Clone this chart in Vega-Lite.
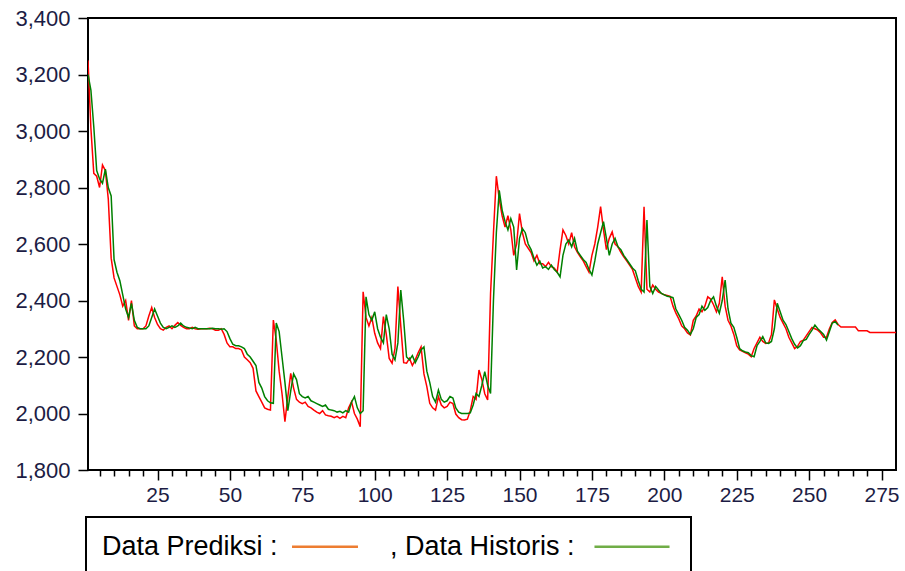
{
  "$schema": "https://vega.github.io/schema/vega-lite/v6.json",
  "width": 808,
  "height": 452,
  "autosize": {"type": "none"},
  "padding": {"left": 88, "top": 18, "right": 9, "bottom": 101},
  "background": "white",
  "config": {
    "view": {"stroke": "black", "strokeWidth": 2},
    "font": "Liberation Sans",
    "axis": {
      "domain": false,
      "grid": false,
      "tickColor": "black",
      "tickWidth": 1.5,
      "labelColor": "#1c1c44",
      "labelFont": "Liberation Sans",
      "title": null
    }
  },
  "data": {
    "values": [
      {"t":1,"p":3250,"h":3200},{"t":2,"p":3010,"h":3145},{"t":3,"p":2850,"h":3015},{"t":4,"p":2840,"h":2860},{"t":5,"p":2800,"h":2830},
      {"t":6,"p":2880,"h":2815},{"t":7,"p":2860,"h":2865},{"t":8,"p":2760,"h":2800},{"t":9,"p":2550,"h":2770},{"t":10,"p":2480,"h":2545},
      {"t":11,"p":2450,"h":2500},{"t":12,"p":2420,"h":2470},{"t":13,"p":2380,"h":2420},{"t":14,"p":2400,"h":2370},{"t":15,"p":2330,"h":2340},
      {"t":16,"p":2400,"h":2390},{"t":17,"p":2310,"h":2330},{"t":18,"p":2300,"h":2305},{"t":19,"p":2300,"h":2300},{"t":20,"p":2300,"h":2300},
      {"t":21,"p":2310,"h":2300},{"t":22,"p":2345,"h":2310},{"t":23,"p":2375,"h":2340},{"t":24,"p":2340,"h":2370},{"t":25,"p":2315,"h":2345},
      {"t":26,"p":2300,"h":2320},{"t":27,"p":2295,"h":2305},{"t":28,"p":2305,"h":2300},{"t":29,"p":2310,"h":2305},{"t":30,"p":2300,"h":2310},
      {"t":31,"p":2312,"h":2305},{"t":32,"p":2322,"h":2310},{"t":33,"p":2312,"h":2320},{"t":34,"p":2305,"h":2310},{"t":35,"p":2300,"h":2305},
      {"t":36,"p":2300,"h":2303},{"t":37,"p":2305,"h":2300},{"t":38,"p":2300,"h":2305},{"t":39,"p":2298,"h":2300},{"t":40,"p":2300,"h":2300},
      {"t":41,"p":2300,"h":2300},{"t":42,"p":2300,"h":2300},{"t":43,"p":2302,"h":2300},{"t":44,"p":2300,"h":2302},{"t":45,"p":2295,"h":2300},
      {"t":46,"p":2295,"h":2300},{"t":47,"p":2300,"h":2298},{"t":48,"p":2280,"h":2300},{"t":49,"p":2250,"h":2290},{"t":50,"p":2236,"h":2265},
      {"t":51,"p":2236,"h":2245},{"t":52,"p":2230,"h":2240},{"t":53,"p":2230,"h":2240},{"t":54,"p":2225,"h":2236},{"t":55,"p":2200,"h":2230},
      {"t":56,"p":2190,"h":2210},{"t":57,"p":2180,"h":2200},{"t":58,"p":2160,"h":2185},{"t":59,"p":2080,"h":2170},{"t":60,"p":2060,"h":2110},
      {"t":61,"p":2040,"h":2090},{"t":62,"p":2020,"h":2060},{"t":63,"p":2015,"h":2045},{"t":64,"p":2012,"h":2038},{"t":65,"p":2331,"h":2036},
      {"t":66,"p":2260,"h":2320},{"t":67,"p":2150,"h":2290},{"t":68,"p":2070,"h":2200},{"t":69,"p":1971,"h":2110},{"t":70,"p":2060,"h":2010},
      {"t":71,"p":2142,"h":2080},{"t":72,"p":2090,"h":2140},{"t":73,"p":2050,"h":2120},{"t":74,"p":2040,"h":2070},{"t":75,"p":2035,"h":2060},
      {"t":76,"p":2040,"h":2055},{"t":77,"p":2025,"h":2060},{"t":78,"p":2020,"h":2045},{"t":79,"p":2012,"h":2040},{"t":80,"p":2005,"h":2035},
      {"t":81,"p":2000,"h":2030},{"t":82,"p":2010,"h":2025},{"t":83,"p":1995,"h":2030},{"t":84,"p":1992,"h":2015},{"t":85,"p":1990,"h":2012},
      {"t":86,"p":1985,"h":2010},{"t":87,"p":1990,"h":2005},{"t":88,"p":1983,"h":2008},{"t":89,"p":1990,"h":2002},{"t":90,"p":1985,"h":2010},
      {"t":91,"p":2020,"h":2005},{"t":92,"p":2042,"h":2040},{"t":93,"p":2000,"h":2060},{"t":94,"p":1980,"h":2020},{"t":95,"p":1953,"h":2000},
      {"t":96,"p":2431,"h":2010},{"t":97,"p":2340,"h":2413},{"t":98,"p":2310,"h":2350},{"t":99,"p":2340,"h":2330},{"t":100,"p":2284,"h":2360},
      {"t":101,"p":2250,"h":2300},{"t":102,"p":2230,"h":2270},{"t":103,"p":2343,"h":2250},{"t":104,"p":2280,"h":2350},{"t":105,"p":2195,"h":2300},
      {"t":106,"p":2178,"h":2210},{"t":107,"p":2230,"h":2190},{"t":108,"p":2449,"h":2250},{"t":109,"p":2310,"h":2437},{"t":110,"p":2180,"h":2330},
      {"t":111,"p":2178,"h":2200},{"t":112,"p":2195,"h":2190},{"t":113,"p":2170,"h":2205},{"t":114,"p":2190,"h":2180},{"t":115,"p":2215,"h":2200},
      {"t":116,"p":2236,"h":2225},{"t":117,"p":2140,"h":2236},{"t":118,"p":2095,"h":2150},{"t":119,"p":2036,"h":2110},{"t":120,"p":2020,"h":2060},
      {"t":121,"p":2012,"h":2040},{"t":122,"p":2060,"h":2083},{"t":123,"p":2030,"h":2050},{"t":124,"p":2020,"h":2040},{"t":125,"p":2025,"h":2045},
      {"t":126,"p":2040,"h":2060},{"t":127,"p":2035,"h":2055},{"t":128,"p":1998,"h":2020},{"t":129,"p":1985,"h":2005},{"t":130,"p":1978,"h":2000},
      {"t":131,"p":1977,"h":2000},{"t":132,"p":1980,"h":2000},{"t":133,"p":2010,"h":2002},{"t":134,"p":2060,"h":2030},{"t":135,"p":2050,"h":2071},
      {"t":136,"p":2154,"h":2060},{"t":137,"p":2120,"h":2100},{"t":138,"p":2070,"h":2148},{"t":139,"p":2048,"h":2100},{"t":140,"p":2425,"h":2071},
      {"t":141,"p":2638,"h":2400},{"t":142,"p":2840,"h":2640},{"t":143,"p":2760,"h":2790},{"t":144,"p":2700,"h":2720},{"t":145,"p":2660,"h":2680},
      {"t":146,"p":2700,"h":2650},{"t":147,"p":2650,"h":2690},{"t":148,"p":2560,"h":2660},{"t":149,"p":2600,"h":2508},{"t":150,"p":2708,"h":2620},
      {"t":151,"p":2640,"h":2655},{"t":152,"p":2600,"h":2640},{"t":153,"p":2585,"h":2600},{"t":154,"p":2570,"h":2580},{"t":155,"p":2540,"h":2550},
      {"t":156,"p":2560,"h":2525},{"t":157,"p":2530,"h":2540},{"t":158,"p":2530,"h":2515},{"t":159,"p":2520,"h":2520},{"t":160,"p":2535,"h":2510},
      {"t":161,"p":2520,"h":2525},{"t":162,"p":2515,"h":2510},{"t":163,"p":2500,"h":2500},{"t":164,"p":2580,"h":2484},{"t":165,"p":2650,"h":2560},
      {"t":166,"p":2630,"h":2600},{"t":167,"p":2600,"h":2614},{"t":168,"p":2640,"h":2590},{"t":169,"p":2590,"h":2620},{"t":170,"p":2570,"h":2575},
      {"t":171,"p":2555,"h":2560},{"t":172,"p":2540,"h":2545},{"t":173,"p":2520,"h":2535},{"t":174,"p":2500,"h":2510},{"t":175,"p":2560,"h":2490},
      {"t":176,"p":2600,"h":2540},{"t":177,"p":2660,"h":2600},{"t":178,"p":2732,"h":2640},{"t":179,"p":2650,"h":2679},{"t":180,"p":2580,"h":2620},
      {"t":181,"p":2620,"h":2560},{"t":182,"p":2643,"h":2600},{"t":183,"p":2600,"h":2620},{"t":184,"p":2590,"h":2590},{"t":185,"p":2570,"h":2580},
      {"t":186,"p":2555,"h":2560},{"t":187,"p":2540,"h":2545},{"t":188,"p":2525,"h":2530},{"t":189,"p":2510,"h":2515},{"t":190,"p":2480,"h":2505},
      {"t":191,"p":2450,"h":2470},{"t":192,"p":2430,"h":2440},{"t":193,"p":2732,"h":2430},{"t":194,"p":2440,"h":2685},{"t":195,"p":2430,"h":2450},
      {"t":196,"p":2455,"h":2425},{"t":197,"p":2440,"h":2450},{"t":198,"p":2430,"h":2437},{"t":199,"p":2425,"h":2425},{"t":200,"p":2420,"h":2420},
      {"t":201,"p":2418,"h":2415},{"t":202,"p":2415,"h":2413},{"t":203,"p":2380,"h":2410},{"t":204,"p":2355,"h":2370},{"t":205,"p":2335,"h":2350},
      {"t":206,"p":2310,"h":2330},{"t":207,"p":2300,"h":2305},{"t":208,"p":2285,"h":2295},{"t":209,"p":2278,"h":2280},{"t":210,"p":2330,"h":2300},
      {"t":211,"p":2345,"h":2340},{"t":212,"p":2370,"h":2350},{"t":213,"p":2360,"h":2380},{"t":214,"p":2380,"h":2365},{"t":215,"p":2413,"h":2375},
      {"t":216,"p":2405,"h":2400},{"t":217,"p":2385,"h":2413},{"t":218,"p":2360,"h":2380},{"t":219,"p":2390,"h":2355},{"t":220,"p":2484,"h":2400},
      {"t":221,"p":2380,"h":2472},{"t":222,"p":2330,"h":2370},{"t":223,"p":2310,"h":2320},{"t":224,"p":2280,"h":2305},{"t":225,"p":2240,"h":2270},
      {"t":226,"p":2225,"h":2230},{"t":227,"p":2220,"h":2222},{"t":228,"p":2215,"h":2218},{"t":229,"p":2210,"h":2215},{"t":230,"p":2201,"h":2205},
      {"t":231,"p":2230,"h":2201},{"t":232,"p":2250,"h":2240},{"t":233,"p":2270,"h":2255},{"t":234,"p":2255,"h":2272},{"t":235,"p":2248,"h":2250},
      {"t":236,"p":2250,"h":2248},{"t":237,"p":2280,"h":2255},{"t":238,"p":2402,"h":2300},{"t":239,"p":2370,"h":2390},{"t":240,"p":2340,"h":2360},
      {"t":241,"p":2320,"h":2330},{"t":242,"p":2300,"h":2315},{"t":243,"p":2270,"h":2290},{"t":244,"p":2250,"h":2265},{"t":245,"p":2230,"h":2245},
      {"t":246,"p":2238,"h":2232},{"t":247,"p":2255,"h":2240},{"t":248,"p":2260,"h":2258},{"t":249,"p":2275,"h":2262},{"t":250,"p":2290,"h":2280},
      {"t":251,"p":2305,"h":2295},{"t":252,"p":2300,"h":2313},{"t":253,"p":2295,"h":2300},{"t":254,"p":2285,"h":2290},{"t":255,"p":2270,"h":2280},
      {"t":256,"p":2270,"h":2260},{"t":257,"p":2300,"h":2290},{"t":258,"p":2322,"h":2320},{"t":259,"p":2331,"h":2325},{"t":260,"p":2315,"h":2313},
      {"t":261,"p":2306},{"t":262,"p":2306},{"t":263,"p":2306},{"t":264,"p":2306},{"t":265,"p":2306},
      {"t":266,"p":2306},{"t":267,"p":2293},{"t":268,"p":2293},{"t":269,"p":2293},{"t":270,"p":2293},
      {"t":271,"p":2287},{"t":272,"p":2287},{"t":273,"p":2287},{"t":274,"p":2287},{"t":275,"p":2287},
      {"t":276,"p":2287},{"t":277,"p":2287},{"t":278,"p":2287},{"t":279,"p":2287},{"t":280,"p":2287}
    ]
  },
  "encoding": {
    "x": {
      "field": "t",
      "type": "quantitative",
      "scale": {"domain": [1, 280], "nice": false, "zero": false},
      "axis": {
        "values": [5,10,15,20,25,30,35,40,45,50,55,60,65,70,75,80,85,90,95,100,105,110,115,120,125,130,135,140,145,150,155,160,165,170,175,180,185,190,195,200,205,210,215,220,225,230,235,240,245,250,255,260,265,270,275],
        "labelExpr": "datum.value % 25 === 0 ? datum.label : ''",
        "tickSize": {"condition": {"test": "datum.value % 25 === 0", "value": 10}, "value": 6},
        "labelFontSize": 21,
        "labelPadding": 4,
        "labelFlush": false,
        "labelOverlap": false,
        "labelBound": false
      }
    },
    "y": {
      "field": "p",
      "type": "quantitative",
      "scale": {"domain": [1800, 3400], "nice": false, "zero": false},
      "axis": {
        "values": [1800, 2000, 2200, 2400, 2600, 2800, 3000, 3200, 3400],
        "format": ",d",
        "tickSize": 10,
        "labelPadding": 8,
        "labelFontSize": 22
      }
    }
  },
  "layer": [
    {
      "mark": {"type": "line", "color": "#ff0000", "strokeWidth": 1.5, "clip": true},
      "encoding": {}
    },
    {
      "mark": {"type": "line", "color": "#008000", "strokeWidth": 1.5, "clip": true},
      "encoding": {"y": {"field": "h", "type": "quantitative"}}
    },
    {
      "transform": [{"filter": "datum.t < 0"}],
      "mark": {"type": "line", "strokeWidth": 2.5},
      "encoding": {
        "color": {
          "datum": "Data Prediksi",
          "scale": {"domain": ["Data Prediksi", "Data Historis"], "range": ["#ED7D31", "#70AD47"]},
          "legend": {
            "orient": "none",
            "legendX": -2,
            "legendY": 499,
            "direction": "horizontal",
            "columns": 2,
            "gridAlign": "each",
            "title": null,
            "symbolType": "M-8,0H8",
            "symbolSize": 68,
            "symbolStrokeWidth": 2.5,
            "labelFontSize": 27,
            "labelFont": "Liberation Sans",
            "labelColor": "black",
            "labelLimit": 400,
            "labelExpr": "datum.label === 'Data Historis' ? ', Data Historis :' : datum.label + ' :'",
            "padding": 16,
            "columnPadding": 27,
            "strokeColor": "black",
            "fillColor": "white",
            "encode": {
              "legend": {"update": {"strokeWidth": {"value": 2}}},
              "symbols": {
                "update": {
                  "x": {"signal": "datum.value === 'Data Prediksi' ? 223 : 242"},
                  "size": {"signal": "datum.value === 'Data Prediksi' ? 68 : 88"},
                  "strokeWidth": {"value": 2.5}
                }
              },
              "labels": {"update": {"x": {"value": 0}, "align": {"value": "left"}}}
            }
          }
        }
      }
    }
  ]
}
